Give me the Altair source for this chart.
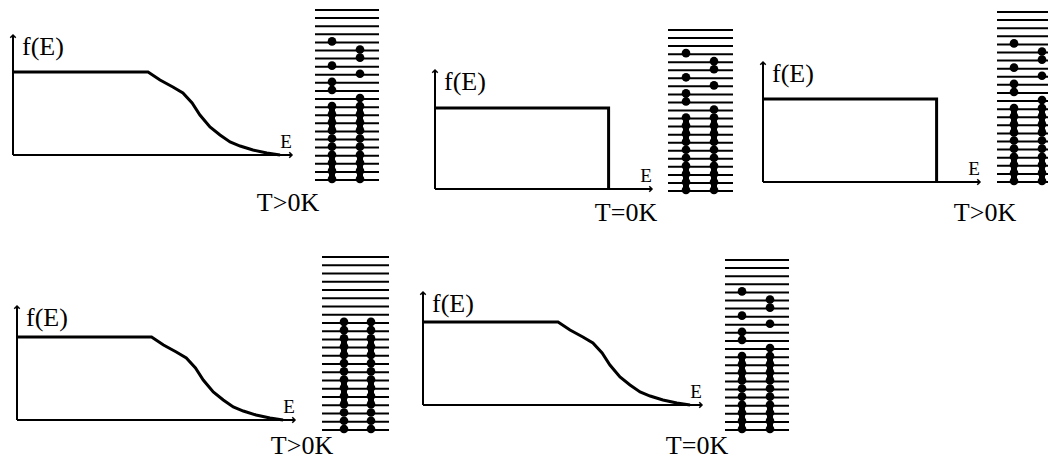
import altair as alt
import pandas as pd

# ---------------- data ----------------
# Fermi-Dirac-like occupation for T>0K (E as fraction of the E axis, f as fraction of plateau)
fermi_E = [0.0, 0.484, 0.527, 0.573, 0.609, 0.642, 0.670, 0.706, 0.742, 0.778, 0.814, 0.860, 0.910, 0.957]
fermi_f = [1.0, 1.0, 0.904, 0.819, 0.747, 0.627, 0.482, 0.337, 0.241, 0.157, 0.108, 0.060, 0.024, 0.0]
# step occupation (T=0K shape)
step_E = [0.0, 0.80, 0.80]
step_f = [1.0, 1.0, 0.0]

# occupancy of the energy levels, top level first: L = left electron, R = right electron
pattern_a = ["", "", "", "", "L", "R", "R", "L", "R", "L", "L", "R"] + ["LR"] * 10
pattern_b = ["", "", "", "L", "R", "R", "L", "R", "L", "L", "R"] + ["LR"] * 10
pattern_c = [""] * 8 + ["LR"] * 14

panel_labels = ["T>0K", "T=0K", "T>0K", "T>0K", "T=0K"]
panel_curves = ["fermi", "step", "step", "fermi", "fermi"]
panel_patterns = [pattern_a, pattern_b, pattern_a, pattern_c, pattern_a]
# runs of levels whose electrons merge into a solid column
panel_runs = [[(12, 15), (18, 21)], [(11, 14), (17, 20)], [(12, 15), (18, 21)],
              [(10, 12), (15, 18)], [(12, 15), (18, 21)]]

# ---------------- layout (page pixels) ----------------
origins = [(13, 155), (435, 189), (763, 182), (17, 420), (423, 405)]
axis_len = [279, 217, 217, 278, 279]
plateau_h = [83, 81, 83, 83, 83]
yaxis_top = [35, 70, 62, 306, 292]
label_pos = [(288, 203), (626, 213), (985, 213), (302, 446), (697, 446)]
ladder_x = [(315, 379), (668, 733), (997, 1061), (322, 389), (725, 789)]
ladder_y = [(10, 180), (30, 191), (12, 182), (257, 430), (260, 430)]
dot_cols = [(332, 360), (686, 714), (1014, 1042), (344, 371), (742, 770)]

W, H = 1040, 452
xs = alt.Scale(domain=[8, 8 + W], nice=False, zero=False)
ys = alt.Scale(domain=[8, 8 + H], nice=False, zero=False, reverse=True)

axis_rows, curve_rows, up_rows, right_rows = [], [], [], []
lad_rows, run_rows, dot_rows = [], [], []
fe_rows, e_rows, t_rows = [], [], []

for p in range(5):
    ox, oy = origins[p]
    L, Hf = axis_len[p], plateau_h[p]
    axis_rows.append(dict(x=ox, y=oy, x2=ox + L, y2=oy))
    axis_rows.append(dict(x=ox, y=oy, x2=ox, y2=yaxis_top[p]))
    up_rows.append(dict(x=ox, y=yaxis_top[p]))
    right_rows.append(dict(x=ox + L, y=oy))
    Es, fs = (fermi_E, fermi_f) if panel_curves[p] == "fermi" else (step_E, step_f)
    for i, (e, f) in enumerate(zip(Es, fs)):
        curve_rows.append(dict(panel=p, i=i, x=ox + e * L, y=oy - f * Hf))
    fe_rows.append(dict(x=ox + 9, y=yaxis_top[p] + 12, t="f(E)"))
    e_rows.append(dict(x=ox + L - 6, y=oy - 13, t="E"))
    t_rows.append(dict(x=label_pos[p][0], y=label_pos[p][1], t=panel_labels[p]))

    pat = panel_patterns[p]
    n = len(pat)
    y0, y1 = ladder_y[p]
    step = (y1 - y0) / (n - 1)
    lx0, lx1 = ladder_x[p]
    cl, cr = dot_cols[p]
    for k, occ in enumerate(pat):
        yy = y0 + k * step
        lad_rows.append(dict(x=lx0, x2=lx1, y=yy))
        if "L" in occ:
            dot_rows.append(dict(x=cl, y=yy - 1))
        if "R" in occ:
            dot_rows.append(dict(x=cr, y=yy - 1))
    for a, b in panel_runs[p]:
        for c in (cl, cr):
            run_rows.append(dict(x=c, y=y0 + a * step - 1, y2=y0 + b * step - 1))

X = lambda f="x": alt.X(f"{f}:Q", scale=xs, axis=None)
Y = lambda f="y": alt.Y(f"{f}:Q", scale=ys, axis=None)

axes = alt.Chart(pd.DataFrame(axis_rows)).mark_rule(color="black", strokeWidth=2).encode(
    x=X(), y=Y(), x2="x2:Q", y2="y2:Q")
curves = alt.Chart(pd.DataFrame(curve_rows)).mark_line(color="black", strokeWidth=3).encode(
    x=X(), y=Y(), detail="panel:N", order="i:Q")
ups = alt.Chart(pd.DataFrame(up_rows)).mark_point(
    shape="M-1,1L0,0L1,1", filled=False, color="black", strokeWidth=1.5, size=30, opacity=1
).encode(x=X(), y=Y())
rights = alt.Chart(pd.DataFrame(right_rows)).mark_point(
    shape="M-1,-1L0,0L-1,1", filled=False, color="black", strokeWidth=1.5, size=30, opacity=1
).encode(x=X(), y=Y())
ladders = alt.Chart(pd.DataFrame(lad_rows)).mark_rule(color="black", strokeWidth=2, clip=True).encode(
    x=X(), x2="x2:Q", y=Y())
runs = alt.Chart(pd.DataFrame(run_rows)).mark_rule(color="black", strokeWidth=6, clip=True).encode(
    x=X(), y=Y(), y2="y2:Q")
dots = alt.Chart(pd.DataFrame(dot_rows)).mark_circle(color="black", size=75, opacity=1, clip=True).encode(
    x=X(), y=Y())
fe_text = alt.Chart(pd.DataFrame(fe_rows)).mark_text(
    font="Liberation Serif", fontSize=26, align="left", baseline="middle", color="black").encode(
    x=X(), y=Y(), text="t:N")
e_text = alt.Chart(pd.DataFrame(e_rows)).mark_text(
    font="Liberation Serif", fontSize=19, align="center", baseline="middle", color="black").encode(
    x=X(), y=Y(), text="t:N")
t_text = alt.Chart(pd.DataFrame(t_rows)).mark_text(
    font="Liberation Serif", fontSize=26, align="center", baseline="middle", color="black").encode(
    x=X(), y=Y(), text="t:N")

chart = alt.layer(axes, curves, ups, rights, ladders, runs, dots, fe_text, e_text, t_text).properties(
    width=W, height=H, padding=0, autosize=alt.AutoSizeParams(type="none"), background="white"
).configure_view(stroke=None)

chart.save("out.html", embed_options={"renderer": "svg", "actions": False})
